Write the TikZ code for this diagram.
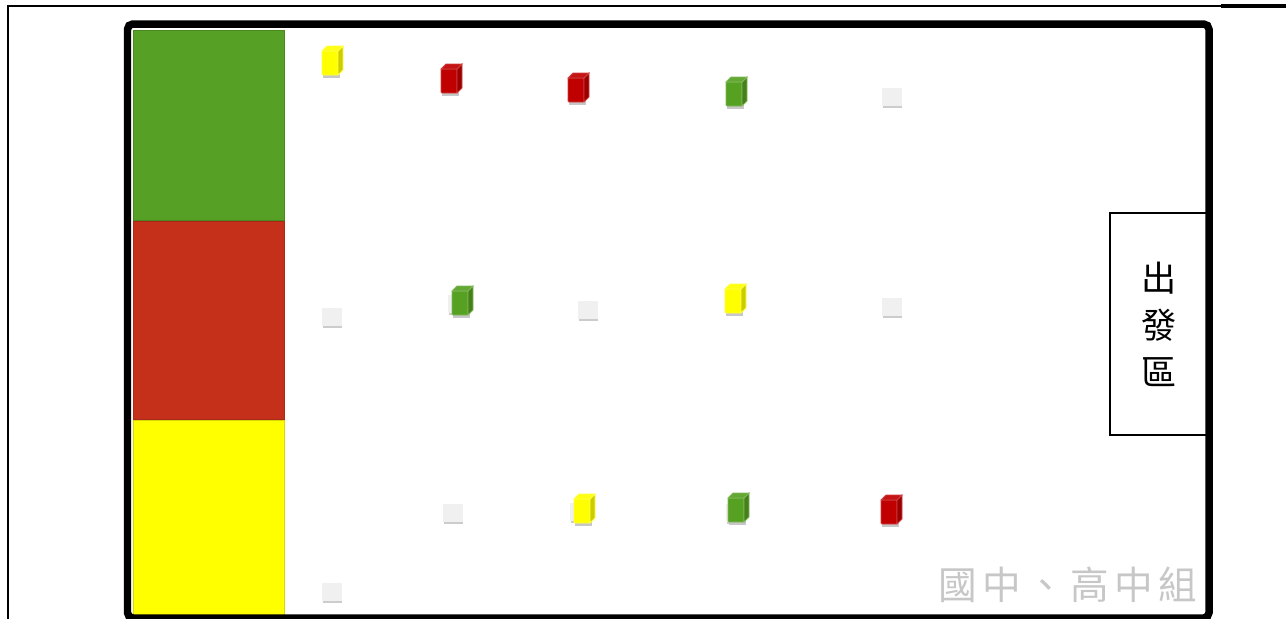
\documentclass[tikz,border=0pt]{standalone}
\usepackage{fontspec}
\newfontfamily\cjk{Noto Sans CJK TC}
\newfontfamily\cjkmark[LetterSpace=14]{Noto Sans CJK TC}
\usepackage{xcolor}
\usetikzlibrary{positioning}

\definecolor{zonegreen}{RGB}{86,160,38}
\definecolor{zonered}{RGB}{196,48,26}
\definecolor{zoneyellow}{RGB}{255,255,0}
\definecolor{blkred}{RGB}{192,0,0}
\definecolor{blkgreen}{RGB}{86,160,34}
\definecolor{blkyellow}{RGB}{255,255,0}
\definecolor{tilegray}{RGB}{240,240,240}

\begin{document}
\begin{tikzpicture}[
  x=0.02cm, y=-0.02cm,
  zone/.style={draw=#1!85!black, line width=0.5pt, fill=#1, minimum width=3.02cm, inner sep=0pt, anchor=north west},
  block/.pic={
    \fill[black!22] (-10,13) rectangle (7,18);
    \filldraw[fill=#1, draw=#1!75!white, line width=0.5pt, rounded corners=0.5pt] (-11,-9) rectangle (5,15);
    \filldraw[fill=#1!80!black, draw=#1!75!white, line width=0.5pt] (5,-9) -- (10,-14) -- (10,10) -- (5,15) -- cycle;
    \filldraw[fill=#1!92!white, draw=#1!75!white, line width=0.5pt] (-11,-9) -- (-6,-14) -- (10,-14) -- (5,-9) -- cycle;
  },
  tile/.pic={
    \fill[black!20] (-9,8) rectangle (10,11);
    \fill[tilegray] (-10,-9) rectangle (10,9);
  }
]
\useasboundingbox (0,0) rectangle (1286,619);

% table rules
\draw[line width=1.2pt] (8,619) -- (8,6) -- (1221,6);
\draw[line width=1.8pt] (1221,6) -- (1286,6);

% colour zones
\node[zone=zonegreen, minimum height=3.8cm] (green) at (133,30) {};
\node[zone=zonered, minimum height=3.96cm] (red) at (green.south west) {};
\node[zone=zoneyellow, minimum height=3.9cm] (yellow) at (red.south west) {};

% start area
\node[draw, line width=1pt, minimum width=1.98cm, minimum height=4.44cm, inner sep=0pt,
      align=center, font=\cjk\fontsize{20}{26.8}\selectfont] (start) at (1159.5,324) {出\\發\\區};

% field frame
\draw[line width=0.15cm, rounded corners=3pt] (127.5,24) rectangle (1209,618);

% tiles
\pic (t1) at (332,317) {tile};
\pic (t2) at (588,310) {tile};
\pic (t3) at (892,307) {tile};
\pic (t4) at (892,97) {tile};
\pic (t5) at (453,513) {tile};
\pic (t6) at (332,592) {tile};
\pic (t7) at (458,304) {tile};
\pic (t8) at (580,512) {tile};
\pic (t9) at (736,513) {tile};

% blocks
\pic (b1) at (333,60) {block=blkyellow};
\pic (b2) at (452,78) {block=blkred};
\pic (b3) at (579,87) {block=blkred};
\pic (b4) at (737,91) {block=blkgreen};
\pic (b5) at (463,300) {block=blkgreen};
\pic (b6) at (736,298) {block=blkyellow};
\pic (b7) at (585,508) {block=blkyellow};
\pic (b8) at (739,507) {block=blkgreen};
\pic (b9) at (892,509) {block=blkred};

% watermark
\node[text=black!22, font=\cjkmark\fontsize{22}{26}\selectfont, inner sep=0pt] (level) at (1068,585) {國中、高中組};
\end{tikzpicture}
\end{document}
